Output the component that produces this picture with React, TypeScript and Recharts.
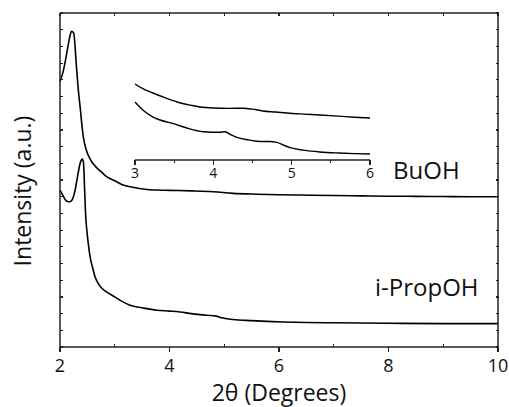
import React from "react";
import { LineChart, Line, XAxis, YAxis } from "recharts";

// Main chart: 2θ (degrees) vs intensity (a.u.)
const buohX = [2.0, 2.05, 2.09, 2.14, 2.18, 2.21, 2.25, 2.3, 2.34, 2.37, 2.4, 2.43, 2.48, 2.55, 2.65, 2.75, 2.85, 3.0, 3.15, 3.35, 3.55, 3.77, 4.0, 4.4, 4.8, 5.16, 5.6, 6.0, 6.4, 7.0, 7.5, 8.0, 8.5, 9.0, 9.5, 10.0];
const buohY = [15.9, 16.4, 17.0, 17.9, 18.6, 18.9, 18.8, 16.8, 15.2, 14.3, 13.3, 12.5, 11.8, 11.25, 10.8, 10.5, 10.2, 9.95, 9.7, 9.55, 9.45, 9.4, 9.38, 9.35, 9.3, 9.2, 9.15, 9.12, 9.1, 9.07, 9.05, 9.03, 9.02, 9.01, 9.0, 9.0];

const propX = [2.0, 2.05, 2.1, 2.15, 2.18, 2.22, 2.27, 2.32, 2.36, 2.39, 2.41, 2.43, 2.45, 2.47, 2.49, 2.52, 2.55, 2.6, 2.64, 2.7, 2.77, 2.85, 3.0, 3.15, 3.28, 3.5, 3.77, 4.0, 4.19, 4.4, 4.68, 4.85, 4.95, 5.16, 5.5, 6.08, 6.5, 7.0, 8.0, 9.0, 10.0];
const propY = [9.4, 9.1, 8.8, 8.7, 8.7, 8.8, 9.3, 10.2, 10.9, 11.2, 11.25, 11.0, 9.4, 7.8, 7.0, 6.1, 5.4, 4.7, 4.2, 3.8, 3.5, 3.3, 3.0, 2.7, 2.5, 2.35, 2.2, 2.15, 2.1, 2.0, 1.9, 1.85, 1.75, 1.65, 1.58, 1.5, 1.47, 1.45, 1.42, 1.4, 1.4];

// Inset: 2θ 3–6 zoom
const insetUpperX = [3.0, 3.1, 3.23, 3.38, 3.54, 3.7, 3.83, 4.0, 4.2, 4.38, 4.5, 4.63, 4.8, 4.94, 5.15, 5.36, 5.6, 5.8, 6.0];
const insetUpperY = [9.27, 8.7, 8.17, 7.6, 7.07, 6.7, 6.46, 6.34, 6.3, 6.32, 6.2, 5.98, 5.85, 5.73, 5.6, 5.49, 5.35, 5.22, 5.12];
const insetLowerX = [3.0, 3.1, 3.23, 3.32, 3.5, 3.66, 3.87, 4.08, 4.15, 4.22, 4.3, 4.45, 4.6, 4.72, 4.81, 4.9, 4.98, 5.15, 5.36, 5.6, 5.8, 6.0];
const insetLowerY = [7.07, 6.1, 5.24, 4.88, 4.4, 3.9, 3.45, 3.38, 3.45, 3.1, 2.75, 2.45, 2.25, 2.25, 2.15, 1.8, 1.5, 1.2, 0.98, 0.85, 0.78, 0.73];

const xTicks = [2, 3, 4, 5, 6, 7, 8, 9, 10];
const yTicks = Array.from({ length: 21 }, (_, i) => i);
const insetTicks = [3, 3.5, 4, 4.5, 5, 5.5, 6];

const labelBuOH = "BuOH";
const labelProp = "i-PropOH";
const xLabel = "2θ (Degrees)";
const yLabel = "Intensity (a.u.)";

const FONT = "'Open Sans', 'DejaVu Sans', sans-serif";
const AX = "#222";

const toPts = (xs: number[], ys: number[]) => xs.map((x, i) => ({ x, y: ys[i] }));

const BottomTick = (props: any) => {
  const { x, y, payload } = props;
  const major = payload.value % 2 === 0;
  return (
    <g>
      <line x1={x} x2={x} y1={y} y2={major ? y + 5 : y - 3} stroke={AX} strokeWidth={1.2} shapeRendering="crispEdges" />
      {major && (
        <text x={x} y={y + 25} textAnchor="middle" fontSize={18} fontFamily={FONT} fill="#111">
          {payload.value}
        </text>
      )}
    </g>
  );
};

const TopTick = (props: any) => {
  const { x, y } = props;
  return <line x1={x} x2={x} y1={y} y2={y + 3} stroke={AX} strokeWidth={1.2} shapeRendering="crispEdges" />;
};

const LeftTick = (props: any) => {
  const { x, y } = props;
  return <line x1={x} x2={x + 3} y1={y} y2={y} stroke={AX} strokeWidth={1.2} shapeRendering="crispEdges" />;
};

const RightTick = (props: any) => {
  const { x, y } = props;
  return <line x1={x - 2} x2={x + 1} y1={y} y2={y} stroke={AX} strokeWidth={1.2} shapeRendering="crispEdges" />;
};

const InsetTick = (props: any) => {
  const { x, y, payload } = props;
  const major = Number.isInteger(payload.value);
  return (
    <g>
      <line x1={x} x2={x} y1={y} y2={major ? y + 5 : y + 3} stroke={AX} strokeWidth={1.2} shapeRendering="crispEdges" />
      {major && (
        <text x={x} y={y + 18} textAnchor="middle" fontSize={14} fontFamily={FONT} fill="#111">
          {payload.value}
        </text>
      )}
    </g>
  );
};

export default function App() {
  const buoh = toPts(buohX, buohY);
  const prop = toPts(propX, propY);
  const up = toPts(insetUpperX, insetUpperY);
  const low = toPts(insetLowerX, insetLowerY);
  return (
    <div style={{ position: "absolute", left: 0, top: 0, width: 509, height: 407, background: "#fff" }}>
      <div style={{ position: "absolute", left: 0, top: 0 }}>
        <LineChart width={509} height={407} margin={{ top: 12, right: 10, left: 0, bottom: 0 }}>
          <XAxis
            xAxisId="b"
            type="number"
            dataKey="x"
            domain={[2, 10]}
            ticks={xTicks}
            interval={0}
            height={60}
            tickSize={0}
            tickMargin={0}
            tick={<BottomTick />}
            tickLine={false}
            axisLine={{ stroke: AX, strokeWidth: 1.5 }}
          />
          <XAxis
            xAxisId="t"
            orientation="top"
            type="number"
            dataKey="x"
            domain={[2, 10]}
            ticks={xTicks}
            interval={0}
            height={1}
            tickSize={0}
            tickMargin={0}
            tick={<TopTick />}
            tickLine={false}
            axisLine={{ stroke: AX, strokeWidth: 1.5 }}
          />
          <YAxis
            yAxisId="l"
            type="number"
            domain={[0, 20]}
            ticks={yTicks}
            interval={0}
            width={60}
            tickSize={0}
            tickMargin={0}
            tick={<LeftTick />}
            tickLine={false}
            axisLine={{ stroke: AX, strokeWidth: 1.5 }}
          />
          <YAxis
            yAxisId="r"
            orientation="right"
            type="number"
            domain={[0, 20]}
            ticks={yTicks}
            interval={0}
            width={1}
            tickSize={0}
            tickMargin={0}
            tick={<RightTick />}
            tickLine={false}
            axisLine={{ stroke: AX, strokeWidth: 1.5 }}
          />
          <Line xAxisId="b" yAxisId="l" data={buoh} dataKey="y" type="monotone" stroke="#000" strokeWidth={1.6} dot={false} isAnimationActive={false} />
          <Line xAxisId="b" yAxisId="l" data={prop} dataKey="y" type="monotone" stroke="#000" strokeWidth={1.6} dot={false} isAnimationActive={false} />
          <Line xAxisId="t" yAxisId="r" data={prop} dataKey="y" type="monotone" stroke="transparent" strokeWidth={0} dot={false} legendType="none" isAnimationActive={false} />
        </LineChart>
      </div>
      <div style={{ position: "absolute", left: 0, top: 0 }}>
        <LineChart width={509} height={407} margin={{ top: 78, right: 139, left: 135, bottom: 222 }}>
          <XAxis
            type="number"
            dataKey="x"
            domain={[3, 6]}
            ticks={insetTicks}
            interval={0}
            height={25}
            tickSize={0}
            tickMargin={0}
            tick={<InsetTick />}
            tickLine={false}
            axisLine={{ stroke: AX, strokeWidth: 1.3 }}
          />
          <YAxis type="number" domain={[0, 10]} hide width={0} />
          <Line data={up} dataKey="y" type="monotone" stroke="#000" strokeWidth={1.4} dot={false} isAnimationActive={false} />
          <Line data={low} dataKey="y" type="monotone" stroke="#000" strokeWidth={1.4} dot={false} isAnimationActive={false} />
        </LineChart>
      </div>
      <svg width={509} height={407} style={{ position: "absolute", left: 0, top: 0, pointerEvents: "none" }}>
        <text x={393} y={179} fontSize={24} fontFamily={FONT} fill="#111">{labelBuOH}</text>
        <text x={375} y={296} fontSize={24} fontFamily={FONT} fill="#111">{labelProp}</text>
        <text x={279} y={401} textAnchor="middle" fontSize={23} fontFamily={FONT} fill="#111">{xLabel}</text>
        <text x={0} y={0} transform="translate(31,191) rotate(-90)" textAnchor="middle" fontSize={23} fontFamily={FONT} fill="#111">{yLabel}</text>
      </svg>
    </div>
  );
}
